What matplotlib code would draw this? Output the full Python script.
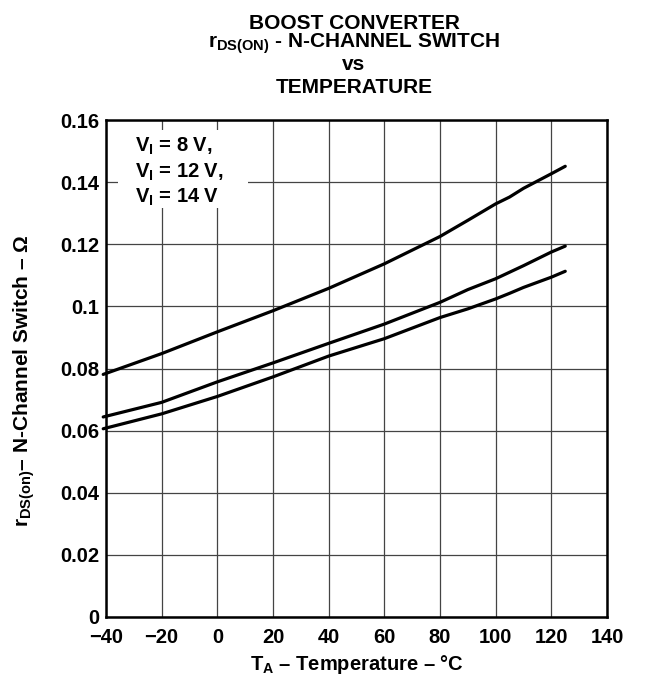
import matplotlib.pyplot as plt
from matplotlib.patches import Rectangle

plt.rcParams['font.family'] = ['Liberation Sans', 'DejaVu Sans']
plt.rcParams['font.weight'] = 'bold'
plt.rcParams['mathtext.fontset'] = 'custom'
plt.rcParams['mathtext.rm'] = 'Liberation Sans:bold'
plt.rcParams['mathtext.bf'] = 'Liberation Sans:bold'
plt.rcParams['mathtext.default'] = 'bf'

# temperature points
temp = [-41, -20, 0, 20, 40, 60, 80, 90, 100, 105, 110, 120, 125]
r_8v = [0.0781, 0.0848, 0.0918, 0.0986, 0.1058, 0.1137, 0.1225, 0.1277,
        0.1330, 0.1352, 0.1380, 0.1427, 0.1451]
r_12v = [0.0644, 0.0691, 0.0757, 0.0818, 0.0881, 0.0943, 0.1013, 0.1054,
         0.1089, 0.1110, 0.1131, 0.1175, 0.1194]
r_14v = [0.0606, 0.0654, 0.0710, 0.0773, 0.0840, 0.0896, 0.0964, 0.0992,
         0.1024, 0.1042, 0.1061, 0.1094, 0.1113]

xticks = [-40, -20, 0, 20, 40, 60, 80, 100, 120, 140]
yticks = [0, 0.02, 0.04, 0.06, 0.08, 0.1, 0.12, 0.14, 0.16]
ytick_labels = ['0', '0.02', '0.04', '0.06', '0.08', '0.1', '0.12', '0.14', '0.16']
xtick_labels = ['\u221240', '\u221220', '0', '20', '40', '60', '80', '100', '120', '140']
legend_lines = ['V$_I$ = 8 V,', 'V$_I$ = 12 V,', 'V$_I$ = 14 V']
title_lines = ['BOOST CONVERTER', 'r$_{DS(ON)}$ - N-CHANNEL SWITCH', 'vs', 'TEMPERATURE']

W, H = 645, 683
fig = plt.figure(figsize=(W / 100, H / 100), dpi=100)
ax = fig.add_axes([106 / W, 1 - 617 / H, (607 - 106) / W, (617 - 120) / H])

for r in (r_8v, r_12v, r_14v):
    ax.plot(temp, r, color='black', lw=2.3, clip_on=False, zorder=3,
            solid_capstyle='round')

ax.set_xlim(-40, 140)
ax.set_ylim(0, 0.16)
ax.set_xticks(xticks)
ax.set_xticklabels(xtick_labels)
ax.set_yticks(yticks)
ax.set_yticklabels(ytick_labels)
ax.tick_params(length=0, labelsize=14.5)
ax.tick_params(axis='x', pad=8)
ax.tick_params(axis='y', pad=5)
ax.grid(True, color='#444444', lw=0.9)
for s in ax.spines.values():
    s.set_linewidth(1.8)
    s.set_zorder(5)

# white block behind the legend text hides the grid
ax.add_patch(Rectangle((0.024, 0.823), 0.26, 0.157, transform=ax.transAxes,
                       facecolor='white', edgecolor='none', zorder=2.5))
for i, s in enumerate(legend_lines):
    ax.text(135 / W, 1 - (152 + 25.5 * i) / H, s, transform=fig.transFigure,
            fontsize=14.5, ha='left', va='baseline', zorder=4)

for s, yb in zip(title_lines, [29, 48, 70, 93]):
    fig.text(354 / W, 1 - yb / H, s, ha='center', va='baseline', fontsize=15)

fig.text(356.5 / W, 1 - 665 / H, 'T$_A$ \u2013 Temperature \u2013 \u00b0C',
         ha='center', va='center', fontsize=14.5)
fig.text(24 / W, 1 - 381 / H, 'r$_{DS(on)}$\u2013 N-Channel Switch \u2013 \u03a9',
         ha='center', va='center', rotation=90, fontsize=15)

fig.savefig('out.png', dpi=100)
